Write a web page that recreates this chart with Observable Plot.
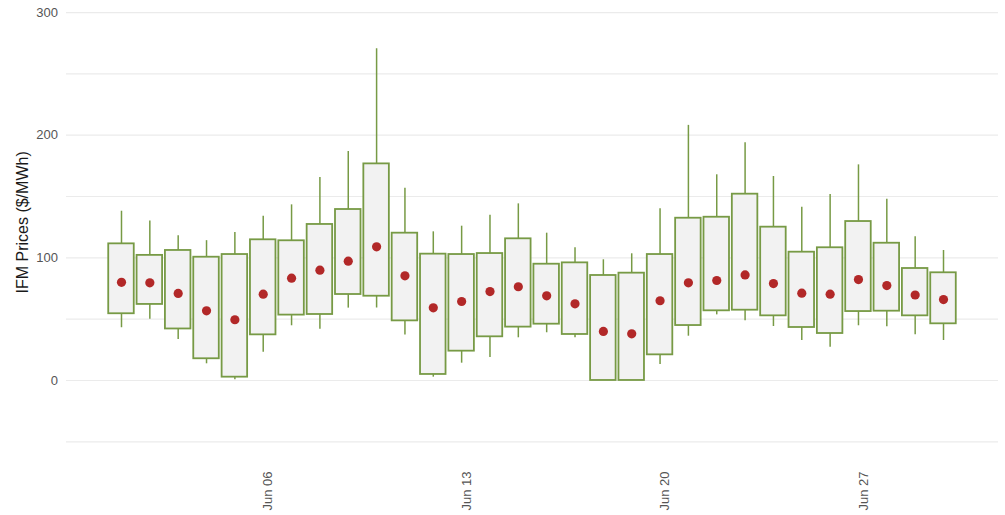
<!DOCTYPE html>
<html>
<head>
<meta charset="utf-8">
<script src="https://cdn.jsdelivr.net/npm/d3@7"></script>
<script src="https://cdn.jsdelivr.net/npm/@observablehq/plot@0.6"></script>
<style>
  html, body { margin: 0; padding: 0; background: #fff; }
  #chart svg { display: block; }
</style>
</head>
<body>
<div id="chart"></div>
<script>
// Days of June (1..30)
const days = d3.range(1, 31);
const whiskerHigh = [138,130,118,114,120.6,134,143.2,165.5,186.7,270.4,156.8,121.2,125.8,134.8,144,120.1,108.2,98.4,103.3,140,208,167.7,193.8,166.3,141.3,151.6,175.8,147.8,117.1,106];
const boxHigh = [111.4,102,106,100.5,102.7,114.7,113.9,127.2,139.4,176.6,120.1,103,102.7,103.5,115.5,94.8,95.9,85.6,87.5,102.7,132.3,133.1,151.9,125,104.6,108.2,129.6,111.9,91.3,87.8];
const boxLow = [54.4,62,42,17.7,2.7,37.2,53.3,53.8,70.1,68.7,48.6,4.9,23.9,35.6,43.5,45.9,37.5,0,0,20.9,44.8,56.8,57.3,52.7,43.2,38.3,56.2,56.5,52.7,46.2];
const whiskerLow = [43,50,33.4,13.6,0.5,23,44.6,41.8,59,59,37,2.7,14.1,18.7,34.8,38.9,34.8,0,0,13,36.1,53.5,48.6,44,32.6,27.1,44.6,43.8,37.2,32.6];
const centerValue = [80,79.6,71,56.8,49.5,70.4,83.4,89.9,97.3,109,85.3,59.2,64.4,72.5,76.4,69,62.5,40,38,65,79.6,81.5,86.1,79,71.2,70.4,82.3,77.4,69.7,66];
const xTickDays = [6, 13, 20, 27];
const yTickValues = [0, 100, 200, 300];
const yGridValues = [-50, 0, 50, 100, 150, 200, 250, 300];

const DAY = 864e5;
const dateOf = d => new Date(Date.UTC(2024, 5, d));
const rows = days.map((d, i) => ({
  date: dateOf(d),
  x1: new Date(+dateOf(d) - 0.45 * DAY),
  x2: new Date(+dateOf(d) + 0.45 * DAY),
  wl: whiskerLow[i], bl: boxLow[i], bh: boxHigh[i], wh: whiskerHigh[i], c: centerValue[i]
}));
const xTicks = xTickDays.map(dateOf);
const fmt = d3.utcFormat("%b %d");

const green = "#779a45";
const chart = Plot.plot({
  width: 1005,
  height: 515,
  marginLeft: 66,
  marginRight: 7,
  marginTop: 5.9,
  marginBottom: 55.3,
  style: { fontFamily: "'Liberation Sans', Arial, sans-serif", background: "#fff" },
  x: { type: "utc", domain: [new Date(+dateOf(1) - 1.94 * DAY), new Date(+dateOf(30) + 1.94 * DAY)], axis: null },
  y: { domain: [-65, 305], axis: null },
  marks: [
    Plot.ruleY(yGridValues, { stroke: "#ebebeb", strokeWidth: 1.2 }),
    Plot.axisY({ ticks: yTickValues, tickSize: 0, tickPadding: 8.5, label: null, fontSize: 13, color: "#555" }),
    Plot.ruleX(rows, { x: "date", y1: "wl", y2: "wh", stroke: green, strokeWidth: 1.5 }),
    Plot.rect(rows, { x1: "x1", x2: "x2", y1: "bl", y2: "bh", fill: "#f2f2f2", stroke: green, strokeWidth: 1.8 }),
    Plot.dot(rows, { x: "date", y: "c", r: 4.6, fill: "#b22828", stroke: "none" }),
    Plot.text(xTicks, { x: d => d, text: d => fmt(d), frameAnchor: "bottom", rotate: -90, textAnchor: "end", lineAnchor: "middle", dy: 11.3, dx: 5, fontSize: 13, fill: "#555" }),
    Plot.text(["IFM Prices ($/MWh)"], { frameAnchor: "top-left", text: d => d, rotate: -90, lineAnchor: "middle", textAnchor: "middle", dx: -44, dy: 216, fontSize: 16, fill: "#1a1a1a" })
  ]
});
document.getElementById("chart").appendChild(chart);
</script>
</body>
</html>
